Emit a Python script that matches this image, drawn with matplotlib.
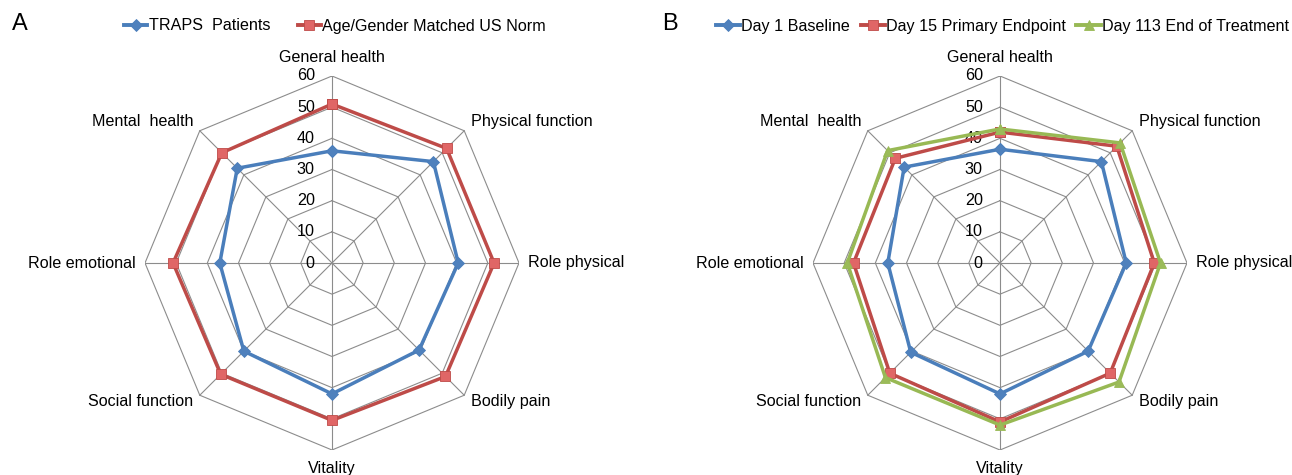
import numpy as np
import matplotlib
matplotlib.use("Agg")
import matplotlib.pyplot as plt
from matplotlib.lines import Line2D

plt.rcParams["font.family"] = ["Liberation Sans", "DejaVu Sans"]

# ----------------------------------------------------------------------
# Data (SF-36 domain scores)
# ----------------------------------------------------------------------
categories = ["General health", "Physical function", "Role physical", "Bodily pain",
              "Vitality", "Social function", "Role emotional", "Mental  health"]
ticks = [0, 10, 20, 30, 40, 50, 60]

traps_patients = [36, 46, 40.5, 39.5, 42, 40, 36, 43]
us_norm = [51, 52, 52, 51.5, 50.5, 50.5, 51, 50]

day1 = [36.5, 46, 40.5, 40, 42, 40.5, 36, 43.5]
day15 = [42, 53, 49.5, 50, 51, 50, 47, 47.5]
day113 = [43, 54.5, 51.5, 54, 52, 52, 49, 51]

series_a = [("TRAPS  Patients", traps_patients, "#4A7EBB", "#4F81BD", "D", 6.5),
            ("Age/Gender Matched US Norm", us_norm, "#BE4B48", "#E06666", "s", 6.5)]
series_b = [("Day 1 Baseline", day1, "#4A7EBB", "#4F81BD", "D", 6.5),
            ("Day 15 Primary Endpoint", day15, "#BE4B48", "#E06666", "s", 6.5),
            ("Day 113 End of Treatment", day113, "#98B954", "#9BBB59", "^", 7)]

FS = 11.6
W, H = 1292, 475
n = len(categories)
ang = np.deg2rad(90 - 45 * np.arange(n))


def radar(ax, series):
    rmax = ticks[-1]
    # octagon grid + spokes
    for t in ticks[1:]:
        xs = np.append(t * np.cos(ang), t * np.cos(ang[0]))
        ys = np.append(t * np.sin(ang), t * np.sin(ang[0]))
        ax.plot(xs, ys, color="#8C8C8C", lw=0.8, zorder=1)
    for a in ang:
        ax.plot([0, rmax * np.cos(a)], [0, rmax * np.sin(a)], color="#8C8C8C", lw=0.8, zorder=1)
    for t in ticks:
        ax.text(-5.5, t, str(t), ha="right", va="center", fontsize=FS)

    # category labels
    for a, lab in zip(ang, categories):
        c, s = np.cos(a), np.sin(a)
        if abs(c) < 1e-6:
            ax.text(0, 66 * np.sign(s), lab, ha="center", va="center", fontsize=FS)
        else:
            ax.text(63 * c, 63 * s + (1 if s > 0 else 0), lab,
                    ha="left" if c > 0 else "right", va="center", fontsize=FS)

    handles = []
    for name, vals, col, mfc, mk, ms in series:
        v = np.array(vals + vals[:1])
        a = np.append(ang, ang[0])
        ax.plot(v * np.cos(a), v * np.sin(a), color=col, lw=2.5, marker=mk, ms=ms,
                mfc=mfc, mec=col, mew=0.6, zorder=3)
        handles.append(Line2D([], [], color=col, lw=2.8, marker=mk, ms=ms, mfc=mfc,
                              mec=col, mew=0.6, label=name))
    ax.set_xlim(-60, 60)
    ax.set_ylim(-60, 60)
    ax.axis("off")
    return handles


# ----------------------------------------------------------------------
# Plot
# ----------------------------------------------------------------------
fig = plt.figure(figsize=(W / 100, H / 100), dpi=100)

R = 187  # pixel radius of the 60 ring
axA = fig.add_axes([(332 - R) / W, (475 - 263 - R) / H, 2 * R / W, 2 * R / H])
axB = fig.add_axes([(1000 - R) / W, (475 - 263 - R) / H, 2 * R / W, 2 * R / H])

hA = radar(axA, series_a)
hB = radar(axB, series_b)

fig.text(12 / W, 1 - 24 / H, "A", fontsize=17, ha="left", va="center")
fig.text(662 / W, 1 - 24 / H, "B", fontsize=17, ha="left", va="center")

fig.legend(handles=hA, loc="center left", bbox_to_anchor=(124 / W, 1 - 26 / H),
           ncol=2, frameon=False, fontsize=FS, handlelength=1.45, handletextpad=0.08,
           columnspacing=1.7, borderpad=0, borderaxespad=0)
fig.legend(handles=hB, loc="center left", bbox_to_anchor=(716 / W, 1 - 26 / H),
           ncol=3, frameon=False, fontsize=FS, handlelength=1.5, handletextpad=0.08,
           columnspacing=0.65, borderpad=0, borderaxespad=0)

plt.savefig("out.png", dpi=100)
